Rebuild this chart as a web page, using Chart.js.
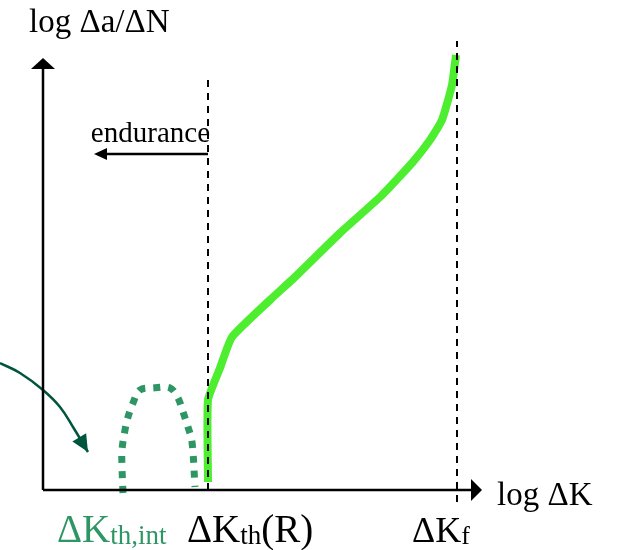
<!DOCTYPE html>
<html>
<head>
<meta charset="utf-8">
<script src="https://cdn.jsdelivr.net/npm/chart.js@4"></script>
<style>
  html, body { margin: 0; padding: 0; background: #fff; }
  canvas { display: block; }
</style>
</head>
<body>
<canvas id="crackChart" width="618" height="550"></canvas>
<script>
// schematic units: x = log dK (0 at the y axis), y = log da/dN (0 at the x axis)
const growthX = [165, 165, 177, 189, 227, 252, 297, 337, 369, 387, 399, 409, 413];
const growthY = [8, 90, 122, 153, 190, 213, 257, 293, 327, 350, 370, 405, 435];

const intrinsicX = [80, 79, 79, 82, 85, 90, 97, 110, 127, 135, 140, 145, 149, 152];
const intrinsicY = [-3, 23, 40, 60, 73, 87, 100, 102, 102, 92, 78, 63, 48, 3];

const pointerX = [-43, -23, 0, 17, 30, 45];
const pointerY = [127, 117, 100, 83, 63, 38];

const thresholdK = 165;
const fractureK = 414;
const thresholdTop = 414;
const fractureTop = 449;
const fractureBottom = -12;

const axisXEnd = 439;
const axisYEnd = 432;

const enduranceY = 336;
const enduranceTo = 51;

const serif = "'Liberation Serif', 'Times New Roman', serif";
const GREEN = "rgb(77, 238, 47)";
const SEA = "rgb(46, 150, 100)";
const DARK = "rgb(0, 85, 62)";

function pts(xs, ys) {
  return xs.map((x, i) => ({ x: x, y: ys[i] }));
}

function arrowHead(ctx, tx, ty, fx, fy, len, half, color) {
  const ang = Math.atan2(ty - fy, tx - fx);
  ctx.save();
  ctx.fillStyle = color;
  ctx.translate(tx, ty);
  ctx.rotate(ang);
  ctx.beginPath();
  ctx.moveTo(0, 0);
  ctx.lineTo(-len, -half);
  ctx.lineTo(-len, half);
  ctx.closePath();
  ctx.fill();
  ctx.restore();
}

// base text + subscript (+ optional tail in base size)
function subText(ctx, x, y, main, sub, tail, size, subSize, color) {
  ctx.fillStyle = color;
  ctx.textBaseline = "alphabetic";
  ctx.textAlign = "left";
  ctx.font = size + "px " + serif;
  ctx.fillText(main, x, y);
  let cx = x + ctx.measureText(main).width;
  ctx.font = subSize + "px " + serif;
  ctx.fillText(sub, cx, y + 2);
  cx += ctx.measureText(sub).width;
  if (tail) {
    ctx.font = size + "px " + serif;
    ctx.fillText(tail, cx, y);
  }
}

const decorations = {
  id: "decorations",
  afterDatasetsDraw(chart) {
    const ctx = chart.ctx;
    const sx = chart.scales.x, sy = chart.scales.y;
    const px = v => sx.getPixelForValue(v);
    const py = v => sy.getPixelForValue(v);

    ctx.save();
    // axes
    ctx.strokeStyle = "#000";
    ctx.lineWidth = 2.5;
    ctx.beginPath();
    ctx.moveTo(px(0), py(0));
    ctx.lineTo(px(axisXEnd - 8), py(0));
    ctx.moveTo(px(0), py(0));
    ctx.lineTo(px(0), py(axisYEnd - 8));
    ctx.stroke();
    arrowHead(ctx, px(axisXEnd), py(0), px(0), py(0), 11, 11, "#000");
    arrowHead(ctx, px(0), py(axisYEnd), px(0), py(0), 11, 12, "#000");

    // endurance arrow
    ctx.lineWidth = 2.5;
    ctx.beginPath();
    ctx.moveTo(px(thresholdK), py(enduranceY));
    ctx.lineTo(px(enduranceTo + 10), py(enduranceY));
    ctx.stroke();
    arrowHead(ctx, px(enduranceTo), py(enduranceY), px(thresholdK), py(enduranceY), 13, 6, "#000");

    // pointer arrow head
    const n = pointerX.length;
    arrowHead(ctx, px(pointerX[n - 1]), py(pointerY[n - 1]),
      px(pointerX[n - 2]), py(pointerY[n - 2]), 17, 8, DARK);

    // texts
    ctx.fillStyle = "#000";
    ctx.textAlign = "left";
    ctx.textBaseline = "alphabetic";
    ctx.font = "33px " + serif;
    ctx.fillText("log \u0394a/\u0394N", 29, 32);
    ctx.fillText("log \u0394K", px(axisXEnd) + 15, py(0) + 15);

    ctx.font = "29px " + serif;
    ctx.textAlign = "right";
    ctx.fillText("endurance", px(thresholdK) + 2, py(enduranceY) - 12);

    subText(ctx, 57, 542, "\u0394K", "th,int", "", 39, 27, SEA);
    subText(ctx, 187, 542, "\u0394K", "th", "(R)", 39, 27, "#000");
    subText(ctx, 412, 542, "\u0394K", "f", "", 36, 26, "#000");
    ctx.restore();
  }
};

const ctx = document.getElementById("crackChart").getContext("2d");

new Chart(ctx, {
  type: "scatter",
  data: {
    datasets: [
      {
        label: "threshold",
        data: [{ x: thresholdK, y: 0 }, { x: thresholdK, y: thresholdTop }],
        showLine: true,
        borderColor: "#000",
        borderWidth: 2,
        borderDash: [7, 6],
        pointRadius: 0,
        order: 0
      },
      {
        label: "fracture",
        data: [{ x: fractureK, y: fractureBottom }, { x: fractureK, y: fractureTop }],
        showLine: true,
        borderColor: "#000",
        borderWidth: 2,
        borderDash: [7, 6],
        pointRadius: 0,
        order: 0
      },
      {
        label: "growth",
        data: pts(growthX, growthY),
        showLine: true,
        borderColor: GREEN,
        borderWidth: 8,
        borderJoinStyle: "round",
        pointRadius: 0,
        tension: 0.15,
        order: 1
      },
      {
        label: "intrinsic",
        data: pts(intrinsicX, intrinsicY),
        showLine: true,
        borderColor: SEA,
        borderWidth: 7,
        borderDash: [7, 8],
        borderCapStyle: "butt",
        pointRadius: 0,
        tension: 0.35,
        order: 1
      },
      {
        label: "pointer",
        data: pts(pointerX, pointerY),
        showLine: true,
        borderColor: DARK,
        borderWidth: 2.5,
        pointRadius: 0,
        tension: 0.4,
        order: 1
      }
    ]
  },
  options: {
    responsive: false,
    devicePixelRatio: 1,
    animation: false,
    layout: { padding: 0 },
    scales: {
      x: { type: "linear", min: -43, max: 575, display: false },
      y: { type: "linear", min: -60, max: 490, display: false }
    },
    plugins: {
      legend: { display: false },
      tooltip: { enabled: false }
    }
  },
  plugins: [decorations]
});
</script>
</body>
</html>
